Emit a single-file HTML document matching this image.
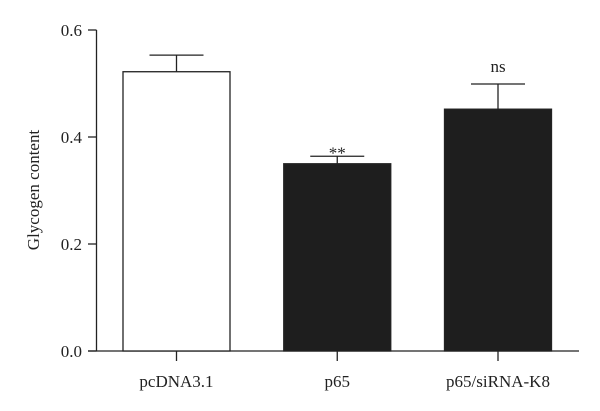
<!DOCTYPE html>
<html><head><meta charset="utf-8"><style>
body{margin:0;background:#fff}
svg{display:block;font-family:"Liberation Serif",serif}
</style></head><body>
<svg id="chart" width="600" height="411" viewBox="0 0 600 411" xmlns="http://www.w3.org/2000/svg">
<text transform="translate(39,190) rotate(-90)" text-anchor="middle" font-size="17" fill="#222">Glycogen content</text>
</svg>
<script>
const categories=["pcDNA3.1","p65","p65/siRNA-K8"];
const values=[0.522,0.350,0.452];
const errors=[0.031,0.014,0.047];
const annotations=["","**","ns"];
const fills=["#fff","#1e1e1e","#1e1e1e"];
const yTicks=[0.0,0.2,0.4,0.6];
const tickLabels=["0.0","0.2","0.4","0.6"];

const svg=document.getElementById('chart');
const NS='http://www.w3.org/2000/svg';
const y0=351,yTop=30,yMax=0.6;
const y=v=>y0-(y0-yTop)*v/yMax;
const axisX=96.5,plotL=88,plotR=579,firstC=176.5,step=160.75,barW=107;
const x=i=>firstC+i*step;
function mk(tag,attrs){const e=document.createElementNS(NS,tag);for(const k in attrs)e.setAttribute(k,attrs[k]);svg.appendChild(e);return e;}

// axes
let ya=mk('line',{x1:axisX,y1:y(yMax),x2:axisX,y2:y0,stroke:'#222','stroke-width':1.3});


let xa=mk('line',{x1:plotL,y1:y0,x2:plotR,y2:y0,stroke:'#222','stroke-width':1.3});



yTicks.forEach((t,i)=>{
  let tk=mk('line',{x1:plotL,y1:y(t),x2:axisX,y2:y(t),stroke:'#222','stroke-width':1.3});
  
  
  let tl=mk('text',{x:82,y:y(t)+6,'text-anchor':'end','font-size':17,fill:'#222'});
  tl.textContent=tickLabels[i];
  
  
});

categories.forEach((c,i)=>{
  const cx=x(i);
  let b=mk('rect',{x:cx-barW/2,y:y(values[i]),width:barW,height:y0-y(values[i]),fill:fills[i],stroke:'#222','stroke-width':1.3});
  
  
  const et=y(values[i]+errors[i]);
  let e1=mk('line',{x1:cx,y1:y(values[i]),x2:cx,y2:et,stroke:'#222','stroke-width':1.3});
  
  
  let e2=mk('line',{x1:cx-27,y1:et,x2:cx+27,y2:et,stroke:'#222','stroke-width':1.3});
  
  
  if(annotations[i]){
    let a=mk('text',{x:cx,y:et-(annotations[i]==='**'?-2:12),'text-anchor':'middle','font-size':annotations[i]==='**'?17:17,fill:'#222'});
    a.textContent=annotations[i];
    
    
  }
  let tk=mk('line',{x1:cx,y1:y0,x2:cx,y2:y0+10,stroke:'#222','stroke-width':1.3});
  
  
  let l=mk('text',{x:cx,y:387,'text-anchor':'middle','font-size':17,fill:'#222'});
  l.textContent=c;
  
  
});
</script>
</body></html>
